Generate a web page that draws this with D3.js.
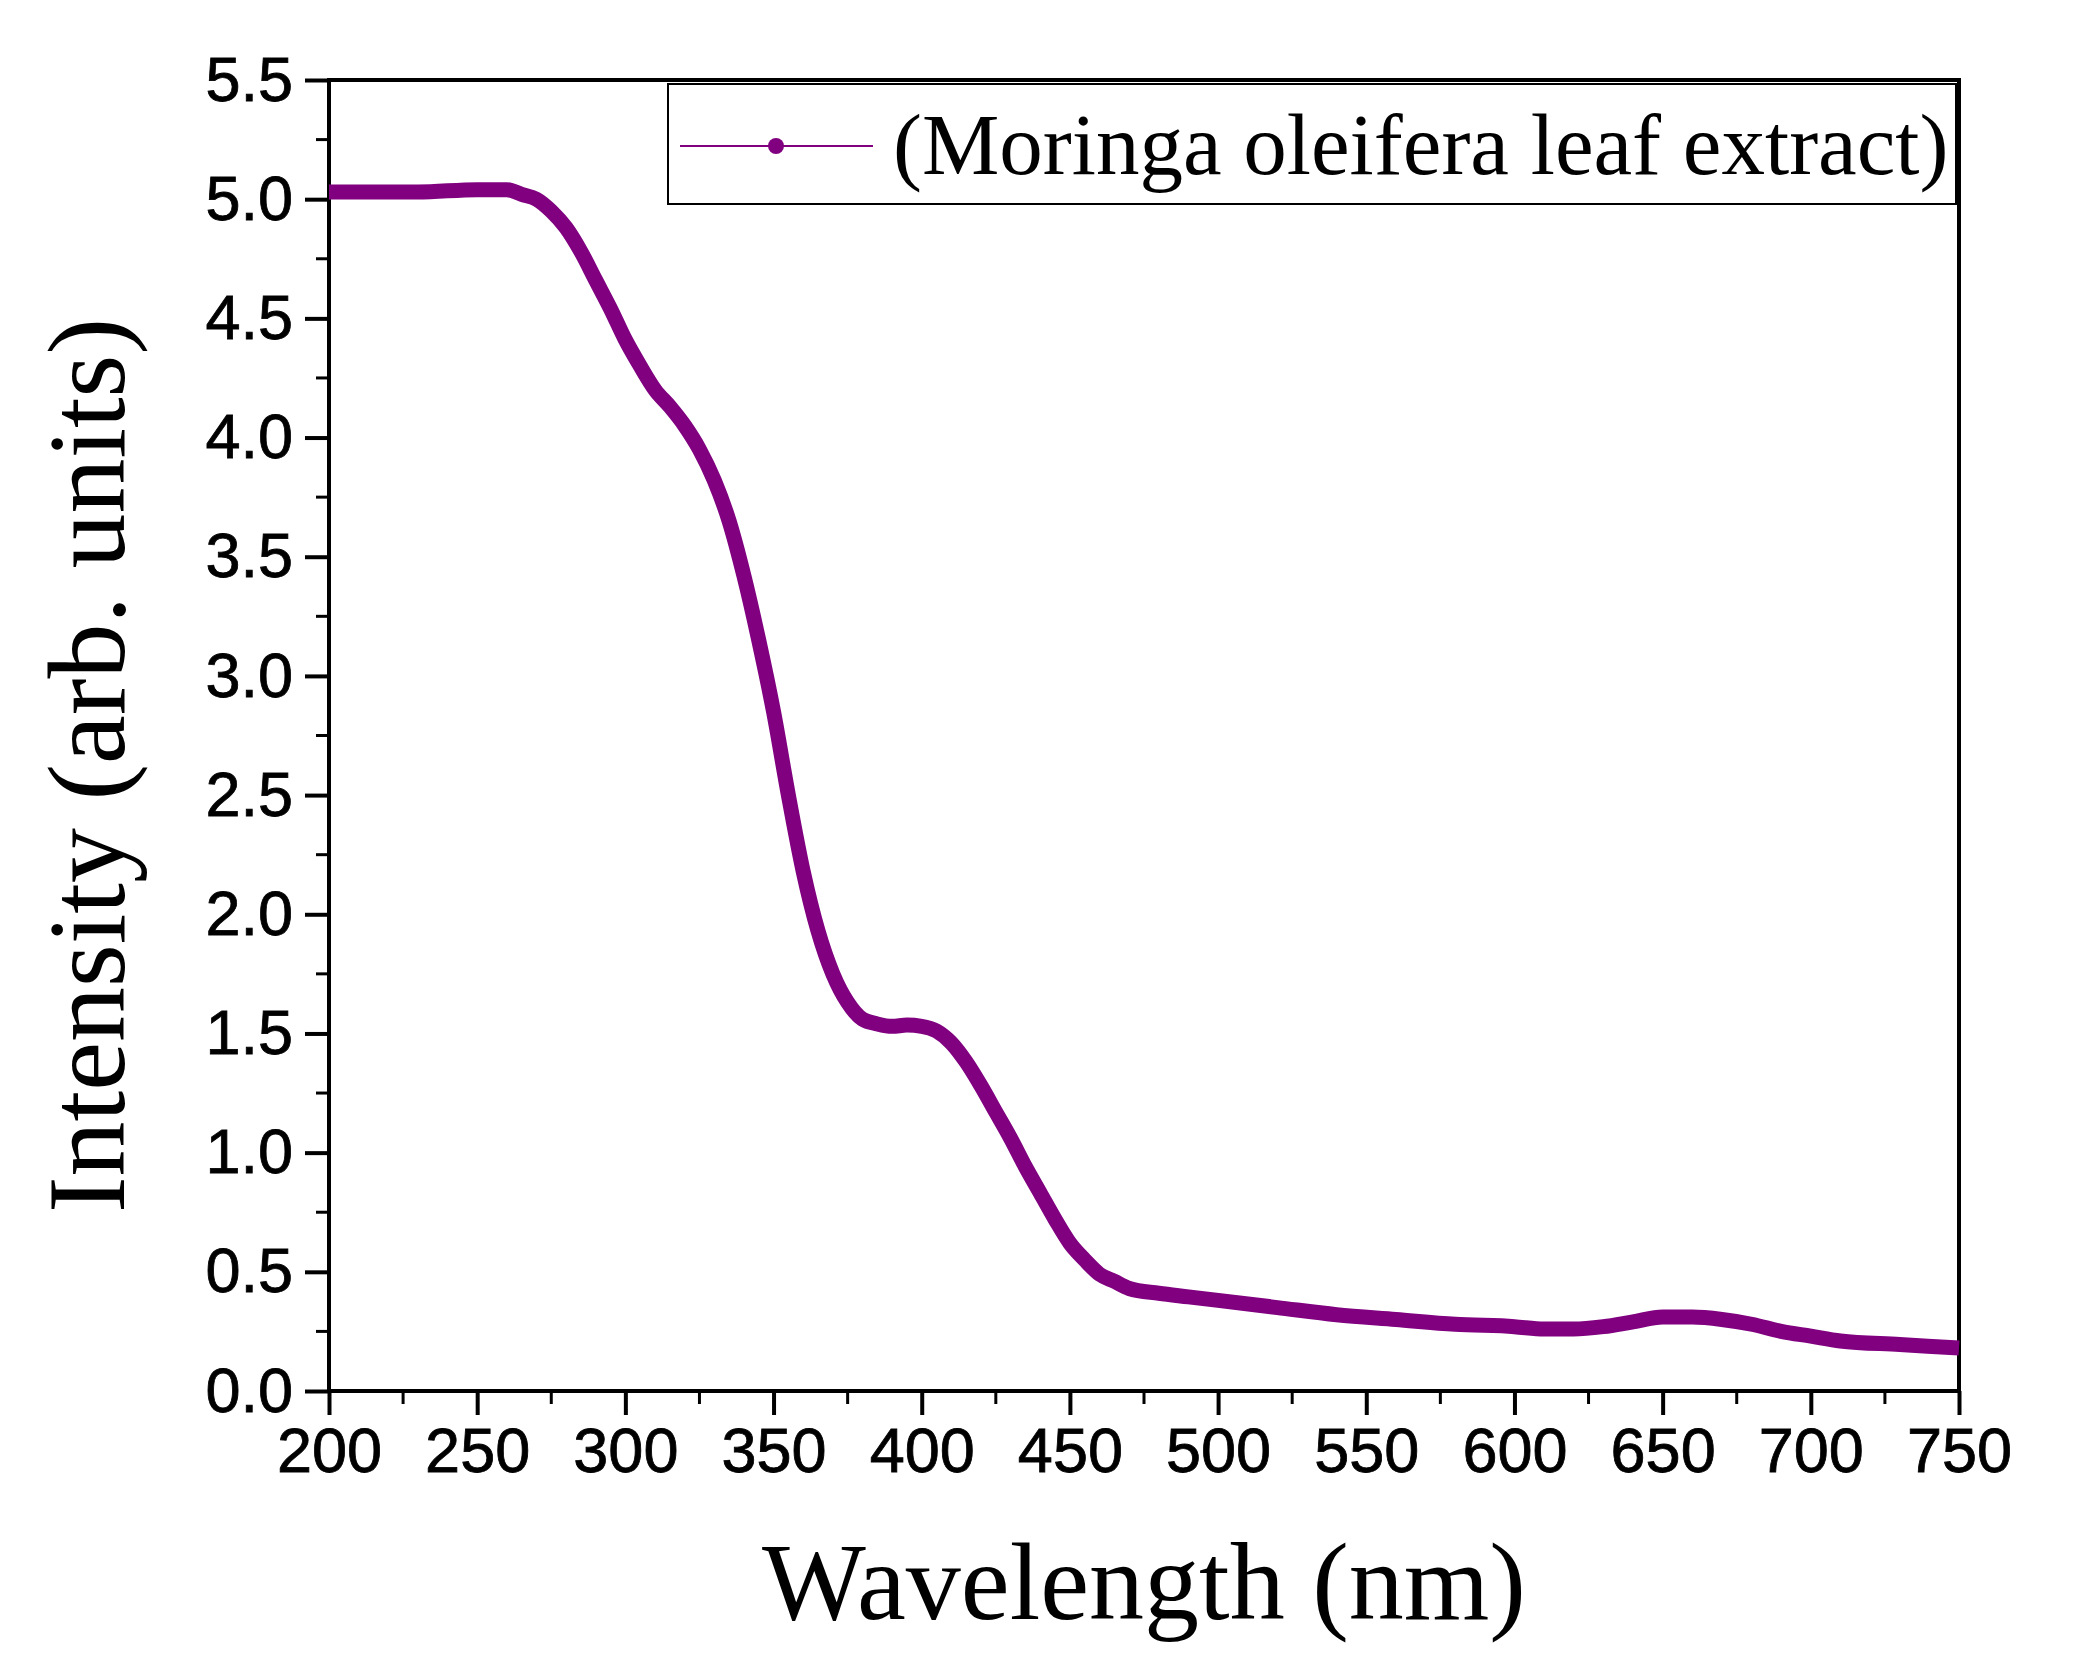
<!DOCTYPE html>
<html>
<head>
<meta charset="utf-8">
<script src="https://cdn.jsdelivr.net/npm/d3@7"></script>
<style>
  body { margin: 0; background: #fff; }
</style>
</head>
<body>
<div id="chart"></div>
<script>
// Data
var wavelength = [200,230,250,260,265,270,275,280,285,290,295,300,305,310,315,320,325,330,335,340,345,350,355,360,365,370,375,380,385,390,395,400,405,410,415,420,425,430,435,440,445,450,455,460,465,470,480,490,500,520,540,560,580,600,610,620,630,640,650,660,670,680,690,700,710,730,750];
var intensity = [5.03,5.03,5.04,5.04,5.02,5.0,4.95,4.88,4.78,4.66,4.54,4.41,4.3,4.2,4.13,4.05,3.95,3.82,3.65,3.42,3.15,2.85,2.5,2.18,1.93,1.75,1.63,1.56,1.54,1.53,1.535,1.53,1.51,1.46,1.38,1.28,1.17,1.06,0.94,0.83,0.72,0.62,0.55,0.49,0.46,0.43,0.41,0.395,0.38,0.35,0.32,0.3,0.28,0.27,0.26,0.26,0.27,0.29,0.31,0.31,0.3,0.28,0.25,0.23,0.21,0.195,0.18];
var xTicks = [200,250,300,350,400,450,500,550,600,650,700,750];
var yTicks = [0,0.5,1,1.5,2,2.5,3,3.5,4,4.5,5,5.5];
var seriesName = "(Moringa oleifera leaf extract)";
var lineColor = "#800080";

var W = 2080, H = 1663;
var margin = {top: 80, right: 121, bottom: 272, left: 329},
    width = W - margin.left - margin.right,
    height = H - margin.top - margin.bottom;

var svg = d3.select("#chart").append("svg")
    .attr("width", W).attr("height", H)
  .append("g")
    .attr("transform", `translate(${margin.left},${margin.top})`);

var x = d3.scaleLinear().domain([200, 750]).range([0, width]);
var y = d3.scaleLinear().domain([0, 5.5]).range([height, 0]);

// minor ticks
var xMinor = d3.range(225, 750, 50);
var yMinor = d3.range(0.25, 5.5, 0.5);
svg.append("g").selectAll("line").data(xMinor).enter().append("line")
  .attr("x1", d => x(d)).attr("x2", d => x(d))
  .attr("y1", height).attr("y2", height + 13)
  .attr("stroke", "#000").attr("stroke-width", 3);
svg.append("g").selectAll("line").data(yMinor).enter().append("line")
  .attr("y1", d => y(d)).attr("y2", d => y(d))
  .attr("x1", 0).attr("x2", -13)
  .attr("stroke", "#000").attr("stroke-width", 3);

// axes
var xAxis = svg.append("g")
  .attr("transform", `translate(0,${height})`)
  .call(d3.axisBottom(x).tickValues(xTicks).tickSize(24).tickPadding(12).tickFormat(d3.format("d")));
var yAxis = svg.append("g")
  .call(d3.axisLeft(y).tickValues(yTicks).tickSize(24).tickPadding(12).tickFormat(d3.format(".1f")));
[xAxis, yAxis].forEach(function(a) {
  a.select(".domain").remove();
  a.selectAll(".tick line").attr("stroke", "#000").attr("stroke-width", 4);
  a.selectAll("text").attr("font-family", "Arial, 'Liberation Sans', sans-serif")
    .attr("font-size", 63).attr("fill", "#000")
    .attr("stroke", "#000").attr("stroke-width", 0.8);
});

// frame
svg.append("rect").attr("width", width).attr("height", height)
  .attr("fill", "none").attr("stroke", "#000").attr("stroke-width", 4);

// line
svg.append("path").datum(wavelength.map((w, i) => [w, intensity[i]]))
  .attr("fill", "none").attr("stroke", lineColor).attr("stroke-width", 15)
  .attr("stroke-linejoin", "round")
  .attr("d", d3.line().x(d => x(d[0])).y(d => y(d[1])).curve(d3.curveMonotoneX));

// legend
var lg = svg.append("g").attr("transform", `translate(${x(200) + 339},4)`);
lg.append("rect").attr("width", 1288).attr("height", 120)
  .attr("fill", "#fff").attr("stroke", "#000").attr("stroke-width", 2);
lg.append("line").attr("x1", 12).attr("x2", 205).attr("y1", 62).attr("y2", 62)
  .attr("stroke", lineColor).attr("stroke-width", 2);
lg.append("circle").attr("cx", 108).attr("cy", 62).attr("r", 8).attr("fill", lineColor);
lg.append("text").attr("x", 225).attr("y", 90)
  .attr("font-family", "'Liberation Serif', 'Times New Roman', serif")
  .attr("font-size", 87).text(seriesName);

// axis titles
svg.append("text").attr("x", width / 2).attr("y", height + 228)
  .attr("text-anchor", "middle")
  .attr("font-family", "'Liberation Serif', 'Times New Roman', serif")
  .attr("font-size", 110).text("Wavelength (nm)");
svg.append("text")
  .attr("transform", `translate(-205,${height / 2 + 30}) rotate(-90)`)
  .attr("text-anchor", "middle")
  .attr("font-family", "'Liberation Serif', 'Times New Roman', serif")
  .attr("font-size", 110).text("Intensity (arb. units)");
</script>
</body>
</html>
